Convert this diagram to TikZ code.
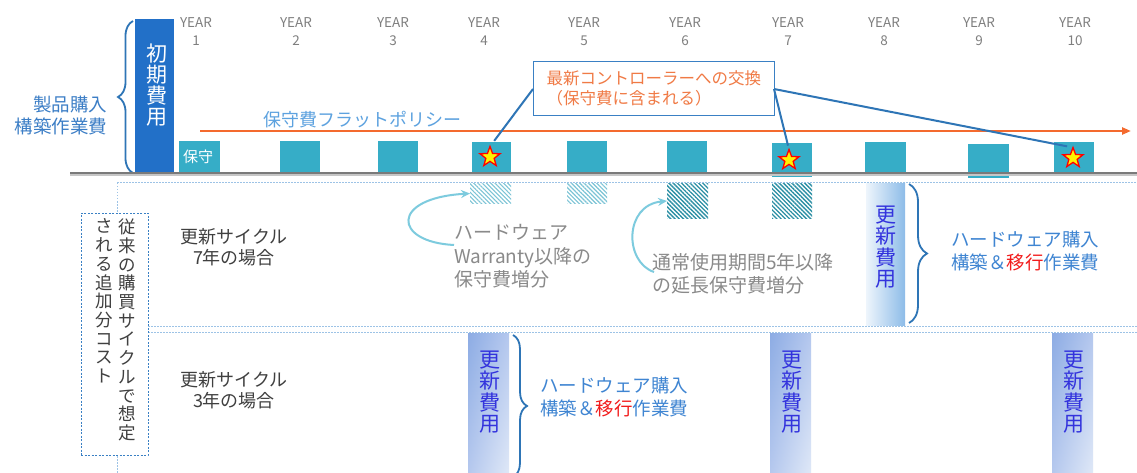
\documentclass[tikz,border=0pt]{standalone}
\usepackage{fontspec}
\setmainfont{Noto Sans CJK JP}
\usetikzlibrary{shapes.geometric,decorations.pathreplacing,patterns.meta,arrows.meta,shadings}
\definecolor{yeargray}{HTML}{7F7F7F}
\definecolor{initblue}{HTML}{2270C8}
\definecolor{teal1}{HTML}{36ADC7}
\definecolor{orange1}{HTML}{F46A2E}
\definecolor{braceblue}{HTML}{2E75B6}
\definecolor{txtblue}{HTML}{3C7EC6}
\definecolor{lightblue}{HTML}{5DA2DF}
\definecolor{dotblue}{HTML}{9DC3E6}
\definecolor{boxblue}{HTML}{3A80C4}
\definecolor{arrowcyan}{HTML}{7DCBDE}
\definecolor{hatchlight}{HTML}{7CC4D6}
\definecolor{hatchdark}{HTML}{2B8FA4}
\definecolor{darktext}{HTML}{404040}
\definecolor{graytext}{HTML}{8A8A8A}
\definecolor{renewblue}{HTML}{3333DD}
\definecolor{hwblue}{HTML}{3F85D2}
\definecolor{migred}{HTML}{F21B1B}
\definecolor{callorange}{HTML}{F07A45}
\definecolor{linegray}{HTML}{7A7A7A}
\definecolor{rowAleft}{HTML}{EEF5FC}
\definecolor{rowAmid}{HTML}{A9CFEF}
\definecolor{rowAright}{HTML}{8DBCE8}
\definecolor{rowBul}{HTML}{8DACE4}
\definecolor{rowBmid}{HTML}{B5C8EE}
\definecolor{rowBlr}{HTML}{DFE8F7}
\begin{document}
\begin{tikzpicture}[x=1pt,y=-1pt,
  every node/.style={inner sep=0pt, outer sep=0pt},
  yearlbl/.style={font=\fontsize{13.5}{17.5}\selectfont, text=yeargray, align=center},
  maint/.style={fill=teal1},
  starmark/.style={star, star points=5, star point ratio=2.4, fill=yellow, draw=red, line width=1.3pt, minimum size=21pt},
  bracestyle/.style={draw=braceblue, line width=1.8pt, decorate},
  vtext/.style={font=\fontsize{17.5}{18.7}\selectfont, align=center, text=darktext},
  renewtxt/.style={font=\fontsize{21}{21.3}\selectfont, align=center, text=renewblue},
  hwtxt/.style={font=\fontsize{18.5}{23}\selectfont, align=center, text=hwblue},
  dotline/.style={draw=dotblue, line width=1pt, dash pattern=on 1.5pt off 1.5pt},
  hatchL/.style={pattern={Lines[angle=-45,distance=3pt,line width=1.1pt]}, pattern color=hatchlight},
  hatchD/.style={pattern={Lines[angle=-45,distance=3pt,line width=1.3pt]}, pattern color=hatchdark},
  curvarrow/.style={draw=arrowcyan, line width=2pt, -{Stealth[length=9pt,width=8pt]}},
  callline/.style={draw=braceblue, line width=2pt}
]
\useasboundingbox (0,0) rectangle (1137,473);
\fill[white] (0,0) rectangle (1137,473);

% year labels
\foreach \x/\n in {196/1,296/2,393/3,484/4,584/5,685/6,788/7,884/8,979/9,1075/10}
  \node[yearlbl] (yr\n) at (\x,31.5) {YEAR\\\n};

% initial cost
\node[fill=initblue, minimum width=39pt, minimum height=154pt] (init) at (154.5,96) {};
\node[font=\fontsize{21}{21}\selectfont, align=center, text=white, anchor=north] (inittxt) at (157,44) {初\\期\\費\\用};
\draw[bracestyle, decoration={brace, amplitude=15pt}] (133,173) -- (133,21);
\node[font=\fontsize{18.5}{22}\selectfont, align=right, text=txtblue, anchor=east] (prod) at (107,115) {製品購入\\構築作業費};

% maintenance boxes
\path[maint] (179,141) rectangle (220,173);
\path[maint] (280,141) rectangle (320,173);
\path[maint] (378,141) rectangle (418,173);
\path[maint] (472,142) rectangle (511,173);
\path[maint] (567,141) rectangle (607,173);
\path[maint] (667,141) rectangle (707,173);
\path[maint] (772,143) rectangle (812,177);
\path[maint] (865,142) rectangle (906,173);
\path[maint] (968,144) rectangle (1009,178);
\path[maint] (1054,142) rectangle (1094,173);
\node[font=\fontsize{15}{15}\selectfont, text=white] (hoshu) at (198,157) {保守};

% timeline
\draw[gray!45, line width=2pt] (70,175.5) -- (1137,175.5);
\draw[linegray, line width=2.6pt] (70,173) -- (1137,173);

% flat policy arrow
\draw[orange1, line width=2.4pt, -{Triangle[length=9pt,width=7pt]}] (200,131) -- (1131,131);
\node[font=\fontsize{18}{18}\selectfont, text=lightblue, anchor=west] (flat) at (263,120) {保守費フラットポリシー};

% stars
\node[starmark] (s4) at (490,157) {};
\node[starmark] (s7) at (789,160) {};
\node[starmark] (s10) at (1073,158) {};

% callout
\node[draw=boxblue, line width=1pt, fill=white, minimum width=241pt, minimum height=54pt] (cb) at (653.5,89) {};
\node[font=\fontsize{16.5}{20}\selectfont, align=left, text=callorange, anchor=west] (cbt) at (546.5,88) {最新コントローラーへの交換\\（保守費に含まれる）};
\draw[callline, shorten >=7pt] (cb.west) -- (s4.north);
\draw[callline, shorten >=4pt] (cb.east) -- (s7.north);
\draw[callline, shorten >=6pt] (cb.east) -- (s10.north);

% dotted frame
\draw[dotline] (117,183) -- (1137,183);
\draw[dotline] (117,183) -- (117,473);
\draw[dotline] (148,326) -- (1137,326);
\draw[dotline] (148,332.5) -- (1137,332.5);
\node[draw=boxblue, fill=white, line width=0.9pt, dash pattern=on 2pt off 1.5pt, minimum width=67pt, minimum height=242pt] (cbox) at (114.5,334) {};
\node[vtext, anchor=north] (colR) at (127.5,219) {従\\来\\の\\購\\買\\サ\\イ\\ク\\ル\\で\\想\\定};
\node[vtext, anchor=north] (colL) at (104,219) {さ\\れ\\る\\追\\加\\分\\コ\\ス\\ト};

% cycle labels
\node[font=\fontsize{18}{21}\selectfont, align=center, text=darktext] (cyc7) at (234,247) {更新サイクル\\7年の場合};
\node[font=\fontsize{18}{21}\selectfont, align=center, text=darktext] (cyc3) at (234,390) {更新サイクル\\3年の場合};

% hatched boxes
\node[hatchL, minimum width=41pt, minimum height=20pt] (h4) at (490.5,193.5) {};
\node[hatchL, minimum width=40pt, minimum height=20pt] (h5) at (587,193.5) {};
\node[hatchD, minimum width=41pt, minimum height=35pt] (h6) at (687.5,201) {};
\node[hatchD, minimum width=40pt, minimum height=35pt] (h7) at (792,201) {};

% gray texts and arrows
\node[font=\fontsize{19}{23.5}\selectfont, align=left, text=graytext, anchor=west] (warr) at (454,256.5) {ハードウェア\\Warranty以降の\\保守費増分};
\node[font=\fontsize{19}{22.5}\selectfont, align=left, text=graytext, anchor=west] (ext) at (652,274) {通常使用期間5年以降\\の延長保守費増分};
\coordinate (a1) at (454,245);
\coordinate (a2) at (654,272);
\draw[curvarrow] (a1) .. controls (393,242) and (390,198) .. (h4.west);
\draw[curvarrow] (a2) .. controls (624,262) and (624,205) .. (h6.west);

% renewal row 1 (7 year)
\shade[left color=rowAleft, middle color=rowAmid, right color=rowAright] (866,184) rectangle (905,325);
\node[renewtxt, anchor=north] (r8) at (886,206) {更\\新\\費\\用};
\draw[bracestyle, decoration={brace, amplitude=18pt}] (909,184) -- (909,323);
\node[hwtxt] (hw1) at (1025,251.5) {ハードウェア購入\\構築＆{\color{migred}移行}作業費};

% renewal row 2 (3 year)
\foreach \xa/\nm in {468/r4,770/r7,1052/r10}{
  \shade[upper left=rowBul, upper right=rowBmid, lower left=rowBmid, lower right=rowBlr] (\xa,333.5) rectangle ({\xa+41},473);
  \node[renewtxt, anchor=north] (\nm) at ({\xa+22},351) {更\\新\\費\\用};
}
\draw[bracestyle, decoration={brace, amplitude=14pt}] (513,335) -- (513,477);
\node[hwtxt] (hw2) at (614,397) {ハードウェア購入\\構築＆{\color{migred}移行}作業費};
\end{tikzpicture}
\end{document}
